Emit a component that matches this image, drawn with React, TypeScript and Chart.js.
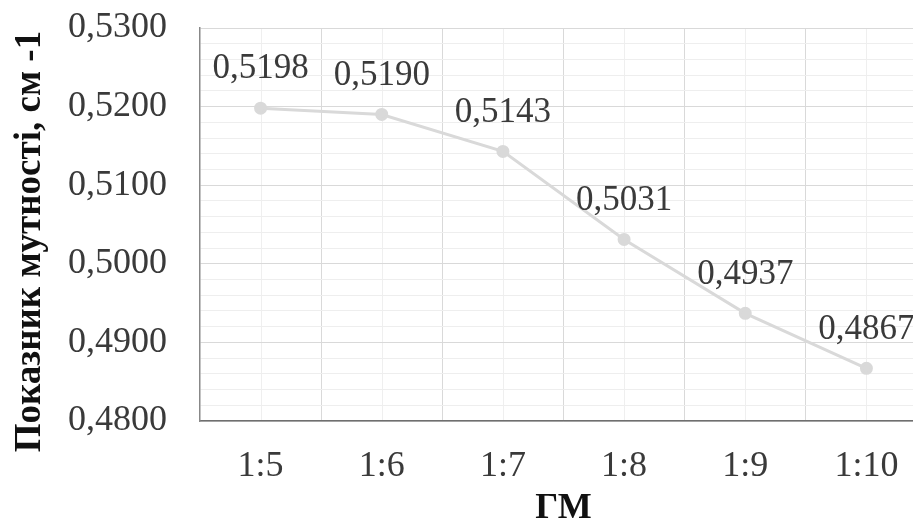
import React, { useEffect, useRef } from "react";
import { Chart, registerables } from "chart.js";

Chart.register(...registerables);

const categories = ["1:5", "1:6", "1:7", "1:8", "1:9", "1:10"];
const values = [0.5198, 0.519, 0.5143, 0.5031, 0.4937, 0.4867];
const yMin = 0.48;
const yMax = 0.53;
const yMajorStep = 0.01;
const yMinorStep = 0.002;
const yTitle = "Показник мутності, см -1";
const xTitle = "ГМ";

const FONT = '"Liberation Serif", "Times New Roman", serif';
const fmt = (v: number) => v.toFixed(4).replace(".", ",");
const isMajor = (v: number) => Math.abs(Math.round(v / yMajorStep) - v / yMajorStep) < 1e-6;

const labelsPlugin = {
  id: "valueLabels",
  afterDatasetsDraw(chart: any) {
    const ctx = chart.ctx;
    const meta = chart.getDatasetMeta(0);
    ctx.save();
    ctx.font = `35px ${FONT}`;
    ctx.fillStyle = "#3a3a3a";
    ctx.textAlign = "center";
    ctx.textBaseline = "middle";
    meta.data.forEach((pt: any, i: number) => {
      ctx.fillText(fmt(values[i]), pt.x, pt.y - 39);
    });
    ctx.restore();
  },
};

const yTitlePlugin = {
  id: "yTitleShifted",
  afterDraw(chart: any) {
    const ctx = chart.ctx;
    const { top, bottom } = chart.chartArea;
    ctx.save();
    ctx.translate(30, (top + bottom) / 2 + 17);
    ctx.rotate(-Math.PI / 2);
    ctx.font = `bold 37px ${FONT}`;
    ctx.fillStyle = "#111";
    ctx.textAlign = "center";
    ctx.textBaseline = "middle";
    ctx.fillText(yTitle, 0, 0);
    ctx.restore();
  },
};

const minorXGrid = {
  id: "minorXGrid",
  beforeDraw(chart: any) {
    const { ctx, chartArea } = chart;
    const x = chart.scales.x;
    ctx.save();
    ctx.strokeStyle = "#efefef";
    ctx.lineWidth = 1;
    categories.forEach((_, i) => {
      const px = Math.round(x.getPixelForValue(i)) + 0.5;
      ctx.beginPath();
      ctx.moveTo(px, chartArea.top);
      ctx.lineTo(px, chartArea.bottom);
      ctx.stroke();
    });
    ctx.restore();
  },
};

export default function App() {
  const ref = useRef<HTMLCanvasElement>(null);
  useEffect(() => {
    if (!ref.current) return;
    const chart = new Chart(ref.current, {
      type: "line",
      data: {
        labels: categories,
        datasets: [
          {
            data: values,
            borderColor: "#d9d9d9",
            backgroundColor: "#d9d9d9",
            borderWidth: 3,
            pointRadius: 5,
            pointBackgroundColor: "#d9d9d9",
            pointBorderColor: "#d9d9d9",
            tension: 0,
          },
        ],
      },
      options: {
        responsive: false,
        animation: false,
        devicePixelRatio: 1,
        layout: { padding: { top: 28, right: 13, left: 0, bottom: 0 } },
        plugins: { legend: { display: false }, tooltip: { enabled: false } },
        scales: {
          x: {
            type: "category",
            offset: true,
            grid: { offset: true, color: "#d9d9d9", drawTicks: false },
            border: { color: "#6f6f6f", width: 1.5 },
            ticks: {
              color: "#3a3a3a",
              font: { family: FONT, size: 36 },
              padding: 24,
              maxRotation: 0,
              autoSkip: false,
            },
            title: {
              display: true,
              text: xTitle,
              color: "#111",
              font: { family: FONT, size: 36, weight: "bold" },
              padding: { top: 0, bottom: 0 },
            },
            afterFit(scale: any) {
              scale.height = 109;
              scale.paddingLeft = 0;
              scale.paddingRight = 0;
            },
          },
          y: {
            min: yMin,
            max: yMax,
            grid: {
              drawTicks: false,
              color: (c: any) => (c.tick && isMajor(c.tick.value) ? "#d9d9d9" : "#eeeeee"),
            },
            border: { color: "#888888", width: 1.5 },
            ticks: {
              stepSize: yMinorStep,
              autoSkip: false,
              color: "#3a3a3a",
              font: { family: FONT, size: 36 },
              padding: 33,
              callback: (v: any) => (isMajor(Number(v)) ? fmt(Number(v)) : ""),
            },
            title: { display: false, text: yTitle },
            afterFit(scale: any) {
              scale.width = 200;
              scale.paddingTop = 0;
              scale.paddingBottom = 0;
            },
          },
        },
      },
      plugins: [minorXGrid, labelsPlugin, yTitlePlugin],
    } as any);
    return () => chart.destroy();
  }, []);
  return (
    <div style={{ position: "absolute", left: 0, top: 0, width: 913, height: 530, overflow: "hidden", background: "#fff" }}>
      <canvas ref={ref} width={940} height={530} style={{ display: "block" }} />
    </div>
  );
}
